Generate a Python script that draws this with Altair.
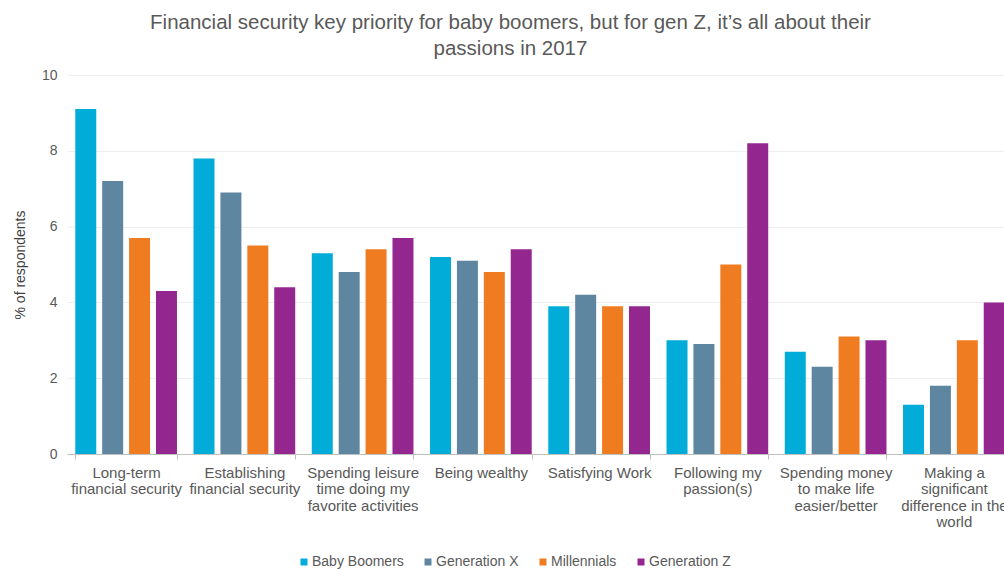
import altair as alt
import pandas as pd

categories = [
    "Long-term|financial security",
    "Establishing|financial security",
    "Spending leisure|time doing my|favorite activities",
    "Being wealthy",
    "Satisfying Work",
    "Following my|passion(s)",
    "Spending money|to make life|easier/better",
    "Making a|significant|difference in the|world",
]
generations = ["Baby Boomers", "Generation X", "Millennials", "Generation Z"]
baby_boomers = [9.1, 7.8, 5.3, 5.2, 3.9, 3.0, 2.7, 1.3]
generation_x = [7.2, 6.9, 4.8, 5.1, 4.2, 2.9, 2.3, 1.8]
millennials = [5.7, 5.5, 5.4, 4.8, 3.9, 5.0, 3.1, 3.0]
generation_z = [4.3, 4.4, 5.7, 5.4, 3.9, 8.2, 3.0, 4.0]
colors = ["#02acd8", "#5e86a1", "#f07c22", "#93278f"]
y_ticks = [0, 2, 4, 6, 8, 10]

series = [baby_boomers, generation_x, millennials, generation_z]
rows = []
for g, vals in zip(generations, series):
    for c, v in zip(categories, vals):
        rows.append({"category": c, "generation": g, "value": v})
df = pd.DataFrame(rows)

FONT = "Liberation Sans"

chart = alt.Chart(df).mark_bar(clip=True).encode(
    x=alt.X(
        "category:N",
        sort=categories,
        scale=alt.Scale(range=[0, 946], paddingInner=0.14, paddingOuter=0.07),
        axis=alt.Axis(
            title=None,
            labelAngle=0,
            labelExpr="split(datum.label, '|')",
            labelFontSize=15,
            labelColor="#595959",
            labelLineHeight=16.5,
            labelPadding=6,
            labelBaseline="top",
            labelLimit=200,
            tickBand="extent",
            tickSize=5,
            tickColor="#bfbfbf",
            domainColor="#bfbfbf",
            labelFont=FONT,
        ),
    ),
    xOffset=alt.XOffset(
        "generation:N",
        sort=generations,
        scale=alt.Scale(paddingInner=0.22, paddingOuter=0),
    ),
    y=alt.Y(
        "value:Q",
        scale=alt.Scale(domain=[0, 10]),
        axis=alt.Axis(
            title="% of respondents",
            values=y_ticks,
            labelFontSize=14,
            labelColor="#595959",
            labelPadding=10,
            domain=False,
            ticks=False,
            gridColor="#eeeeee",
            titleFontSize=14,
            titleFontWeight="normal",
            titleColor="#404040",
            titlePadding=14,
            labelFont=FONT,
            titleFont=FONT,
        ),
    ),
    color=alt.Color(
        "generation:N",
        sort=generations,
        scale=alt.Scale(domain=generations, range=colors),
        legend=alt.Legend(
            title=None,
            orient="none",
            direction="horizontal",
            legendX=230,
            legendY=480,
            symbolType="square",
            symbolSize=49,
            symbolStrokeWidth=0,
            labelFontSize=14,
            labelColor="#595959",
            labelFont=FONT,
            labelOffset=1,
            columnPadding=17,
        ),
    ),
).properties(
    width=937,
    height=379,
    title=alt.TitleParams(
        text=[
            "Financial security key priority for baby boomers, but for gen Z, it\u2019s all about their",
            "passions in 2017",
        ],
        fontSize=20.5,
        font=FONT,
        fontWeight="normal",
        color="#595959",
        anchor="middle",
        dx=-25,
        offset=9,
        lineHeight=26,
    ),
    autosize=alt.AutoSizeParams(type="none"),
    padding={"left": 67, "top": 75, "right": 0, "bottom": 115},
).configure_view(stroke=None)

chart.save("out.html", embed_options={"renderer": "svg", "actions": False})
